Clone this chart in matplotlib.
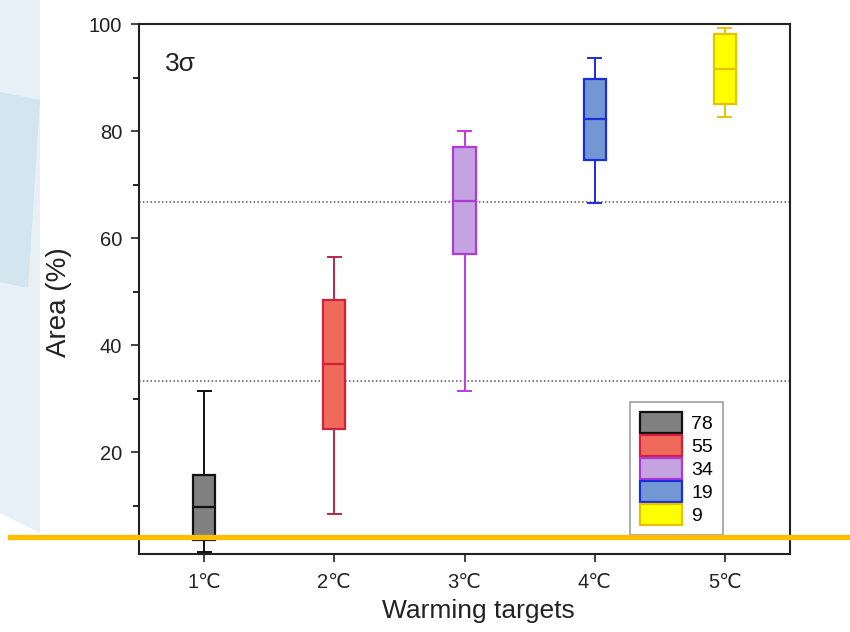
import matplotlib
matplotlib.use("Agg")
import matplotlib.pyplot as plt
from matplotlib.patches import Patch, Polygon
from matplotlib.lines import Line2D

plt.rcParams['font.family'] = ['Liberation Sans', 'DejaVu Sans']

# box statistics
targets = ['1℃', '2℃', '3℃', '4℃', '5℃']
whis_lo = [1.4, 8.5, 31.5, 66.5, 82.6]
q1 = [3.6, 24.4, 57.1, 74.6, 85.0]
median = [9.7, 36.4, 66.9, 82.2, 91.6]
q3 = [15.7, 48.5, 77.1, 89.8, 98.1]
whis_hi = [31.5, 56.5, 80.0, 93.7, 99.3]
counts = ['78', '55', '34', '19', '9']

fills = ['#808080', '#ef6a5a', '#c4a3e0', '#7397d2', '#ffff00']
edges = ['#111111', '#d4203a', '#b03ad8', '#1a2ee0', '#e6c200']
whisk = ['#111111', '#b8274a', '#c03ae0', '#1a2ee0', '#e6c200']

fig = plt.figure(figsize=(8.5, 6.32), dpi=100)

# light blue backdrop on the left edge
fig.patches.append(Polygon([(0, 1), (40/850, 1), (40/850, 1-533/632), (0, 1-513/632)],
                           closed=True, transform=fig.transFigure,
                           facecolor='#e7f0f7', edgecolor='none', zorder=0))
fig.patches.append(Polygon([(0, 1-92/632), (40/850, 1-100/632),
                            (28/850, 1-288/632), (0, 1-282/632)],
                           closed=True, transform=fig.transFigure,
                           facecolor='#d3e5ef', edgecolor='none', zorder=0))

ax = fig.add_axes([139/850, 1-554/632, 651/850, 530/632])

pos = list(range(1, len(targets) + 1))
stats = []
for i in range(len(targets)):
    stats.append(dict(whislo=whis_lo[i], q1=q1[i], med=median[i], q3=q3[i],
                      whishi=whis_hi[i], fliers=[]))
bp = ax.bxp(stats, positions=pos, widths=0.17, patch_artist=True,
            showfliers=False, capwidths=0.1)
for i in range(len(targets)):
    bp['boxes'][i].set(facecolor=fills[i], edgecolor=edges[i], linewidth=1.6)
    bp['medians'][i].set(color=edges[i], linewidth=1.6)
    for ln in bp['whiskers'][2*i:2*i+2] + bp['caps'][2*i:2*i+2]:
        ln.set(color=whisk[i], linewidth=1.4)

ax.axhline(100/3, color='#555555', linestyle=(0, (1, 1.5)), linewidth=1.1, zorder=0)
ax.axhline(200/3, color='#555555', linestyle=(0, (1, 1.5)), linewidth=1.1, zorder=0)

ax.set_xlim(0.5, 5.5)
ax.set_ylim(1, 100)
ax.set_xticks(pos)
ax.set_xticklabels(targets)
ax.set_yticks([20, 40, 60, 80, 100])
ax.set_yticks([10, 30, 50, 70, 90], minor=True)
ax.tick_params(axis='both', which='major', direction='out', length=6, width=1.2,
               labelsize=14.5, colors='#222222')
ax.tick_params(axis='x', which='major', pad=8)
ax.tick_params(axis='y', which='major', pad=6)
ax.tick_params(axis='y', which='minor', direction='out', length=4, width=1.2)
for sp in ax.spines.values():
    sp.set_linewidth(1.5)
    sp.set_color('#222222')

ax.set_ylabel('Area (%)', fontsize=20, color='#222222')
ax.yaxis.set_label_coords(-0.103, 0.475)
ax.set_xlabel('Warming targets', fontsize=19, color='#222222')
ax.xaxis.set_label_coords(0.521, -0.085)
ax.text(0.04, 0.925, '3σ', transform=ax.transAxes, fontsize=19, va='center', ha='left',
        color='#222222')

handles = [Patch(facecolor=fills[i], edgecolor=edges[i], linewidth=1.6) for i in range(len(counts))]
leg = ax.legend(handles, counts, loc='upper left', bbox_to_anchor=(0.754, 0.287),
                borderaxespad=0, fancybox=False, edgecolor='#888888', fontsize=14,
                handlelength=2.2, handleheight=1.3, labelspacing=0.1, handletextpad=0.45,
                borderpad=0.5)
leg.get_frame().set_linewidth(1.2)

# orange rule across the picture
fig.add_artist(Line2D([10/850, 1], [1-537/632, 1-537/632], transform=fig.transFigure,
                      color='#fbbf00', linewidth=3.8, zorder=10))

fig.savefig('out.png', dpi=100)
